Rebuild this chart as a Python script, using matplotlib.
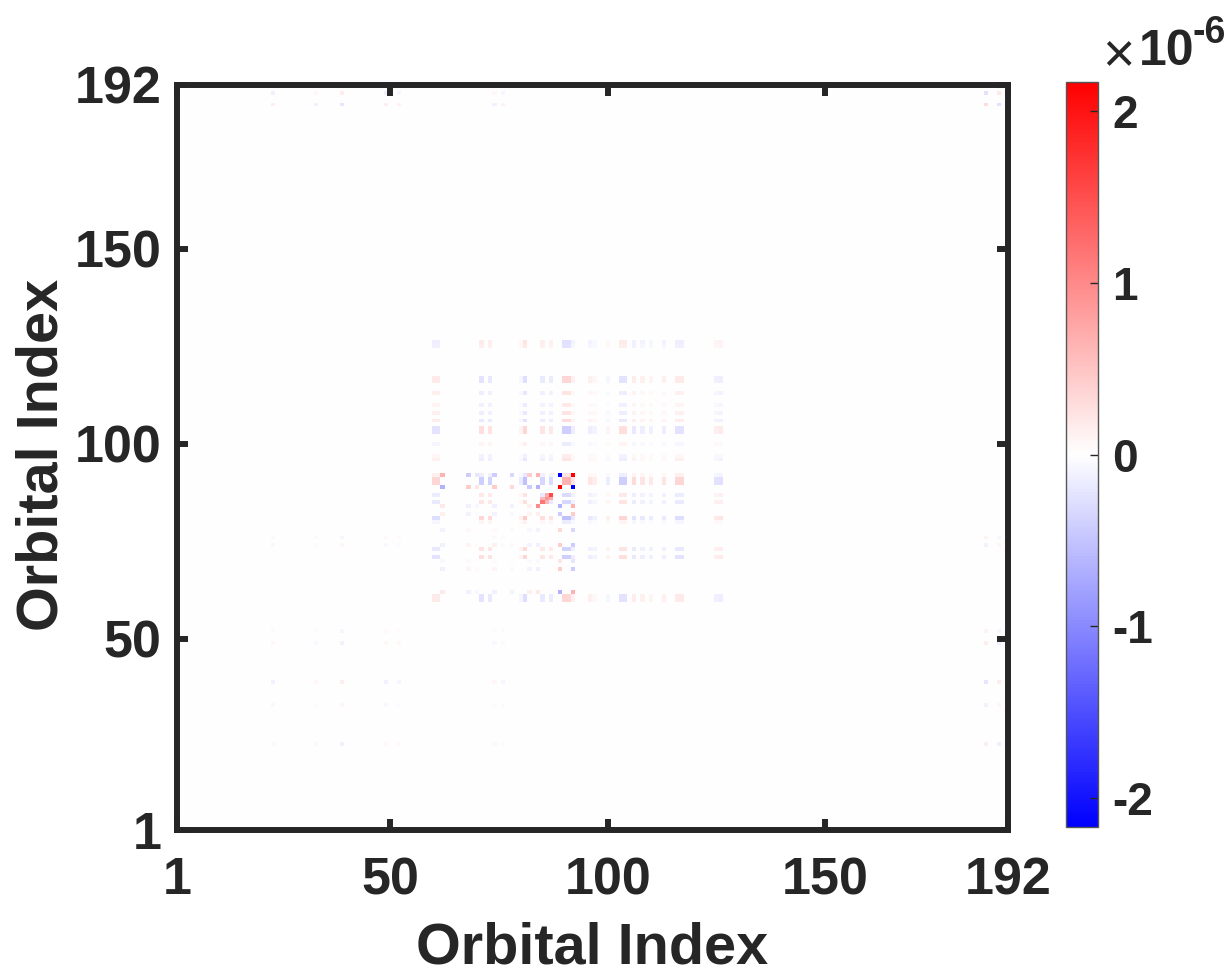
import matplotlib
matplotlib.use("Agg")
import matplotlib.pyplot as plt
import numpy as np
from matplotlib.colors import LinearSegmentedColormap

plt.rcParams['font.family'] = ['Liberation Sans', 'DejaVu Sans']
plt.rcParams['font.weight'] = 'bold'
dark = '#262626'

n_orb = 192
tick_vals = [1, 50, 100, 150, 192]
cbar_ticks = [-2, -1, 0, 1, 2]
vlim = 2.17

# main pattern, read from the crossing rows and columns
main_idx = [60, 61, 71, 73, 80, 81, 85, 87, 90, 91, 92, 96, 97, 100, 103, 104, 106, 108, 110, 113, 116, 117, 125, 126]
main_w = [-.45, -.45, .55, .5, .2, .7, .45, .4, -.85, -.85, -.3, -.3, -.2, .2, .55, .55, -.4, -.3, -.25, -.3, -.45, -.45, .3, .35]
main_amp = 0.9

# the four strong corners and what lines up with them
corner_idx = [62, 68, 70, 74, 78, 82, 84, 89, 92]
corner_w = [-.3, .2, .1, .2, .15, -.2, -.3, 1.0, -1.0]
corner_amp = 2.17

# faint pattern near the edges
edge_idx = [23, 33, 39, 49, 52, 74, 76, 187, 190]
edge_w = [.5, -.35, -.7, .5, .35, -.35, .35, 1.0, -.8]
edge_amp = 0.3

# block on the diagonal around 86 (row, col, value in 1e-6)
block_rows = [87, 86, 85, 84, 87, 86, 87]
block_cols = [87, 86, 85, 84, 86, 85, 85]
block_vals = [1.4, .9, 1.0, .8, .7, .6, -.35]


def add_pattern(m, idx, w, amp):
    v = np.zeros(n_orb)
    v[np.array(idx) - 1] = w
    return m + amp * np.outer(v, v)


mat = np.zeros((n_orb, n_orb))
mat = add_pattern(mat, main_idx, main_w, main_amp)
mat = add_pattern(mat, corner_idx, corner_w, corner_amp)
mat = add_pattern(mat, edge_idx, edge_w, edge_amp)
for r, c, val in zip(block_rows, block_cols, block_vals):
    mat[r - 1, c - 1] += val
    if r != c:
        mat[c - 1, r - 1] += val

cmap = LinearSegmentedColormap.from_list('bwr2', ['#0000ff', '#ffffff', '#ff0000'], N=256)

W, H = 1228, 976
fig = plt.figure(figsize=(W / 100, H / 100), dpi=100)
ax = fig.add_axes([177 / W, 1 - 830 / H, 831 / W, 745 / H])
im = ax.imshow(mat * 1e-6, origin='lower', extent=[.5, 192.5, .5, 192.5], aspect='auto',
               cmap=cmap, vmin=-vlim * 1e-6, vmax=vlim * 1e-6, interpolation='nearest')
ax.set_xlim(1, 192)
ax.set_ylim(1, 192)
ax.set_xticks(tick_vals)
ax.set_yticks(tick_vals)
ax.tick_params(direction='in', length=8, width=4.3, top=True, right=True, color=dark,
               labelcolor=dark, labelsize=37.5)
ax.tick_params(axis='x', pad=19)
ax.tick_params(axis='y', pad=11)
for s in ax.spines.values():
    s.set_linewidth(4.3)
    s.set_color(dark)
ax.set_xlabel('Orbital Index', fontsize=41.5, fontweight='bold', color=dark)
ax.set_ylabel('Orbital Index', fontsize=41.5, fontweight='bold', color=dark)
ax.xaxis.set_label_coords((592 - 177) / 831, -(922 - 830) / 745, transform=ax.transAxes)
ax.yaxis.set_label_coords(-(177 - 69) / 831, (830 - 455) / 745, transform=ax.transAxes)

cax = fig.add_axes([1066 / W, 1 - 827 / H, 32 / W, 745 / H])
cb = fig.colorbar(im, cax=cax)
cb.set_ticks([t * 1e-6 for t in cbar_ticks])
cb.set_ticklabels([str(t) for t in cbar_ticks])
cax.tick_params(direction='in', length=6, width=1, color=dark, labelcolor=dark, labelsize=33, pad=10)
cb.outline.set_edgecolor('#555555')
cb.outline.set_linewidth(1)

fig.text(1102 / W, 1 - 71 / H, '\u00d7', fontsize=40, fontweight='normal', color=dark, ha='left', va='baseline')
fig.text(1139 / W, 1 - 65 / H, '10', fontsize=36, fontweight='bold', color=dark, ha='left', va='baseline')
fig.text(1192 / W, 1 - 43 / H, '-6', fontsize=27, fontweight='bold', color=dark, ha='left', va='baseline')

fig.savefig('out.png', dpi=100)
